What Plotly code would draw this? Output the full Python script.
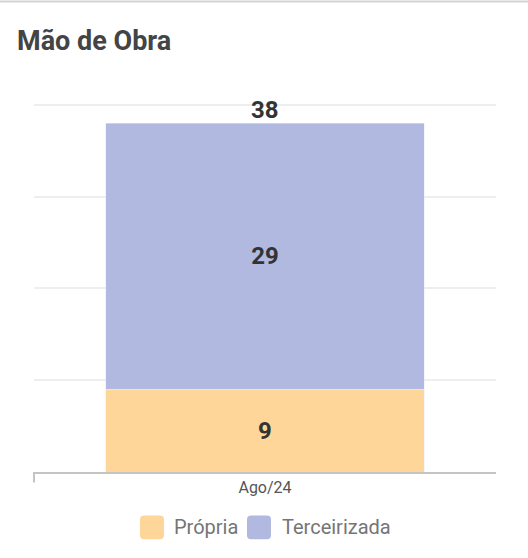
import re
import plotly.graph_objects as go

categories = ["Ago/24"]
propria = [9]
terceirizada = [29]
series_names = ["Própria", "Terceirizada"]
colors = ["#FFD699", "#B1B9E0"]
title_text = "Mão de Obra"

totals = [a + b for a, b in zip(propria, terceirizada)]

W, H = 528, 558
Y_TOP = 40.2
ML, MR, MB = 34, 32, 85.5
MT = 104.5 - (Y_TOP - 40) * (472.5 - 104.5) / 40
PW, PH = W - ML - MR, H - MT - MB

def px_x(px):
    return (px - ML) / PW

def px_y(py):
    return 1 - (py - MT) / PH

fig = go.Figure()
for name, vals, col in zip(series_names, [propria, terceirizada], colors):
    fig.add_trace(go.Bar(
        x=categories, y=vals, name=name, marker_color=col,
        text=[str(v) for v in vals], textposition="inside",
        insidetextanchor="middle",
        textfont=dict(family="Roboto", size=24, color="#333333", weight="bold"),
        showlegend=False, width=0.69, hoverinfo="skip",
    ))

for c, t in zip(categories, totals):
    fig.add_annotation(x=c, y=t, text=f"<b>{t}</b>", showarrow=False,
                       yanchor="bottom", yshift=-3,
                       font=dict(family="Roboto", size=24, color="#333333"))

# left boundary tick
fig.add_shape(type="line", xref="paper", yref="paper",
              x0=0, x1=0, y0=px_y(472.5), y1=px_y(483),
              line=dict(color="#c4c4c4", width=2))

# custom legend
legend_items = [(140, 173), (247, 281)]
for (sx, tx), name, col in zip(legend_items, series_names, colors):
    r = 4
    path = (f"M {sx + r} 516 L {sx + 24 - r} 516 Q {sx + 24} 516 {sx + 24} {516 + r} "
            f"L {sx + 24} {540 - r} Q {sx + 24} 540 {sx + 24 - r} 540 "
            f"L {sx + r} 540 Q {sx} 540 {sx} {540 - r} L {sx} {516 + r} Q {sx} 516 {sx + r} 516 Z")
    toks = re.findall(r"[-\d.]+|[A-Z]", path)
    out, coords = [], []
    for tok in toks:
        if tok.isalpha():
            out.append(tok)
        else:
            coords.append(float(tok))
            if len(coords) == 2:
                out.append(f"{px_x(coords[0]):.5f},{px_y(coords[1]):.5f}")
                coords = []
    fig.add_shape(type="path", xref="paper", yref="paper", path=" ".join(out),
                  fillcolor=col, line=dict(width=0))
    fig.add_annotation(xref="paper", yref="paper", x=px_x(tx - 1), y=px_y(528),
                       text=name, showarrow=False, xanchor="left", yanchor="middle",
                       font=dict(family="Roboto", size=20, color="#757575"))

# top border
fig.add_shape(type="line", xref="paper", yref="paper",
              x0=px_x(0), x1=px_x(W), y0=px_y(1), y1=px_y(1),
              line=dict(color="#d3d3d3", width=2))

fig.update_layout(
    width=W, height=H,
    margin=dict(l=ML, r=MR, t=MT, b=MB),
    barmode="stack",
    plot_bgcolor="white", paper_bgcolor="white",
    title=dict(text=f"<b>{title_text}</b>", x=17 / W, xanchor="left", xref="container",
               y=1 - 41 / H, yanchor="middle", yref="container",
               font=dict(family="Roboto", size=27, color="#444444")),
    showlegend=False,
    xaxis=dict(showline=True, linecolor="#c4c4c4", linewidth=2, ticks="",
               tickfont=dict(family="Roboto", size=16, color="#555555"),
               showgrid=False, range=[-0.5, 0.5]),
    yaxis=dict(range=[0, Y_TOP], dtick=10, showticklabels=False, showgrid=True,
               gridcolor="#eeeeee", gridwidth=2, zeroline=False, showline=False),
)

fig.write_html("out.html", config={"displayModeBar": False},
               post_script="document.body.style.margin='0';document.body.style.overflow='hidden';")
